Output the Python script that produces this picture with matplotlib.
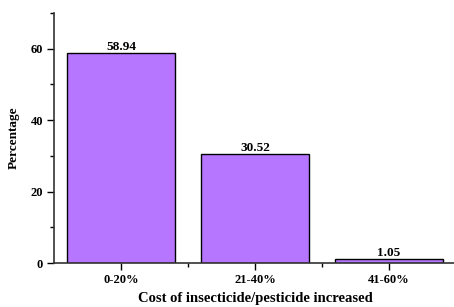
import numpy as np
import matplotlib
matplotlib.use('Agg')
import matplotlib.pyplot as plt
from matplotlib.ticker import MultipleLocator, FixedLocator

plt.rcParams['font.family'] = 'Liberation Serif'
plt.rcParams['font.weight'] = 'bold'

categories = ['0-20%', '21-40%', '41-60%']
values = [58.94, 30.52, 1.05]
value_labels = ['58.94', '30.52', '1.05']

fig = plt.figure(figsize=(4.54, 3.07), dpi=100)
ax = fig.add_axes([54/454, 44/307, 402/454, 250/307])

x = np.arange(len(categories))
bars = ax.bar(x, values, width=0.8, color='#b776ff', edgecolor='black', linewidth=1.0)
ax.bar_label(bars, labels=value_labels, padding=0, fontsize=9.5, fontweight='bold')

ax.set_xlim(-0.5, 2.5)
ax.set_ylim(0, 70)
ax.set_xticks(x)
ax.set_xticklabels(categories)
ax.xaxis.set_minor_locator(FixedLocator([0.5, 1.5]))
ax.yaxis.set_major_locator(FixedLocator([0, 20, 40, 60]))
ax.yaxis.set_minor_locator(MultipleLocator(10))

for s in ['top', 'right']:
    ax.spines[s].set_visible(False)
for s in ['left', 'bottom']:
    ax.spines[s].set_linewidth(1.2)
    ax.spines[s].set_color('#333333')

ax.tick_params(axis='both', which='major', direction='out', length=5, width=1, labelsize=9, pad=3)
ax.tick_params(axis='both', which='minor', direction='out', length=3, width=1)

ax.set_xlabel('Cost of insecticide/pesticide increased', fontsize=10.5, fontweight='bold', labelpad=4)
ax.set_ylabel('Percentage', fontsize=9.5, fontweight='bold', labelpad=8)

fig.savefig('out.png', dpi=100)
